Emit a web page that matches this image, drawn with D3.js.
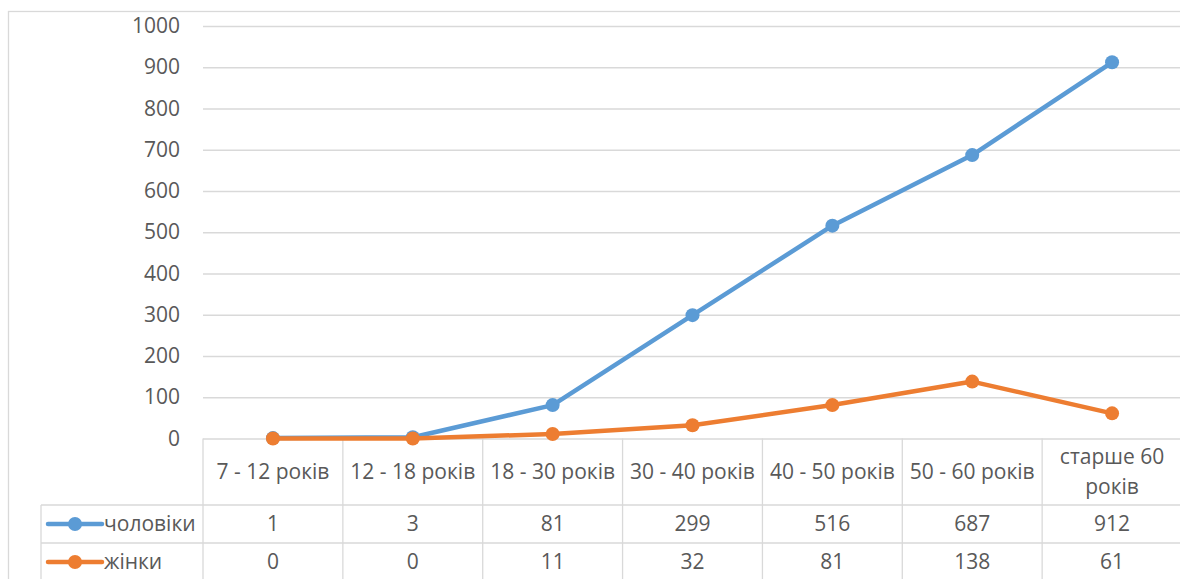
<!DOCTYPE html>
<html>
<head>
<meta charset="utf-8">
<script src="https://cdnjs.cloudflare.com/ajax/libs/d3/7.8.5/d3.min.js"></script>
<style>
    body { margin: 0; background: #fff; }
    svg { display: block; font-family: 'Open Sans', 'Liberation Sans', sans-serif; }
    .grid line { stroke: #d9d9d9; stroke-width: 1.3; }
    .table-line { stroke: #d9d9d9; stroke-width: 1.3; }
    text { fill: #595959; font-size: 21px; }
</style>
</head>
<body>
<div id="chart"></div>
<script>
    const categories = ['7 - 12 років', '12 - 18 років', '18 - 30 років', '30 - 40 років', '40 - 50 років', '50 - 60 років', 'старше 60 років'];
    const categoryLines = [['7 - 12 років'], ['12 - 18 років'], ['18 - 30 років'], ['30 - 40 років'], ['40 - 50 років'], ['50 - 60 років'], ['старше 60', 'років']];
    const seriesNames = ['чоловіки', 'жінки'];
    const men = [1, 3, 81, 299, 516, 687, 912];
    const women = [0, 0, 11, 32, 81, 138, 61];
    const yTicks = [0, 100, 200, 300, 400, 500, 600, 700, 800, 900, 1000];
    const colors = ['#5b9bd5', '#ed7d31'];

    const width = 1180;
    const height = 579;
    const plot = { left: 203, right: 1182, top: 26, bottom: 438.5 };
    const table = { left: 41, header: 505, rowHeight: 38 };

    const svg = d3.select('#chart')
        .append('svg')
        .attr('width', width)
        .attr('height', height);

    //outer border
    svg.append('rect')
        .attr('x', 8.5)
        .attr('y', 11.5)
        .attr('width', 1200)
        .attr('height', 700)
        .attr('fill', '#fff')
        .attr('stroke', '#d9d9d9')
        .attr('stroke-width', 1.3);

    //scales
    const x = d3.scaleBand()
        .domain(categories)
        .range([plot.left, plot.right])
        .padding(0);
    const y = d3.scaleLinear()
        .domain([0, 1000])
        .range([plot.bottom, plot.top]);
    const cx = d => x(d) + x.bandwidth() / 2;

    //grid lines
    svg.append('g')
        .classed('grid', true)
        .attr('transform', `translate(${plot.left},0)`)
        .call(d3.axisLeft(y).tickValues(yTicks).tickSize(-(plot.right - plot.left)).tickFormat(''))
        .call(g => g.select('.domain').remove());

    //y axis labels
    const yAxis = svg.append('g')
        .attr('transform', `translate(${plot.left},0)`)
        .call(d3.axisLeft(y).tickValues(yTicks).tickSize(0).tickPadding(23).tickFormat(d3.format('d')));
    yAxis.select('.domain').remove();
    yAxis.selectAll('text')
        .attr('fill', '#595959')
        .style('font-size', '21px')
        .style('font-family', "'Open Sans', 'Liberation Sans', sans-serif");

    //data table lines
    const tableBottom = table.header + table.rowHeight * seriesNames.length;
    const boundaries = categories.map(c => x(c)).concat([plot.right]);
    svg.selectAll('.col-line')
        .data(boundaries)
        .join('line')
        .classed('table-line', true)
        .attr('x1', d => d).attr('x2', d => d)
        .attr('y1', plot.bottom).attr('y2', tableBottom + 10);
    svg.append('line')
        .classed('table-line', true)
        .attr('x1', table.left).attr('x2', table.left)
        .attr('y1', table.header).attr('y2', tableBottom + 10);
    svg.selectAll('.row-line')
        .data(d3.range(seriesNames.length + 1))
        .join('line')
        .classed('table-line', true)
        .attr('x1', table.left).attr('x2', plot.right)
        .attr('y1', i => table.header + i * table.rowHeight)
        .attr('y2', i => table.header + i * table.rowHeight);

    //header labels
    const headerMid = (plot.bottom + table.header) / 2;
    categories.forEach((c, i) => {
        const lines = categoryLines[i];
        const t = svg.append('text')
            .attr('text-anchor', 'middle')
            .attr('x', cx(c))
            .attr('y', headerMid - (lines.length - 1) * 15);
        lines.forEach((l, j) => {
            t.append('tspan')
                .attr('x', cx(c))
                .attr('dy', j === 0 ? '0.35em' : '30px')
                .text(l);
        });
    });

    //rows
    const seriesData = [men, women];
    seriesNames.forEach((name, s) => {
        const rowMid = table.header + s * table.rowHeight + table.rowHeight / 2;
        //legend key
        svg.append('line')
            .attr('x1', 48).attr('x2', 102)
            .attr('y1', rowMid).attr('y2', rowMid)
            .attr('stroke', colors[s])
            .attr('stroke-width', 4.5)
            .attr('stroke-linecap', 'round');
        svg.append('circle')
            .attr('cx', 75).attr('cy', rowMid).attr('r', 7)
            .attr('fill', colors[s]);
        svg.append('text')
            .attr('x', 104)
            .attr('y', rowMid)
            .attr('dy', '0.35em')
            .text(name);
        svg.selectAll(null)
            .data(seriesData[s])
            .join('text')
            .attr('text-anchor', 'middle')
            .attr('x', (d, i) => cx(categories[i]))
            .attr('y', rowMid)
            .attr('dy', '0.35em')
            .text(d => d);
    });

    //lines
    const line = d3.line()
        .x((d, i) => cx(categories[i]))
        .y(d => y(d));
    seriesData.forEach((data, s) => {
        svg.append('path')
            .datum(data)
            .attr('d', line)
            .attr('fill', 'none')
            .attr('stroke', colors[s])
            .attr('stroke-width', 4.5)
            .attr('stroke-linejoin', 'round')
            .attr('stroke-linecap', 'round');
        svg.selectAll(null)
            .data(data)
            .join('circle')
            .attr('cx', (d, i) => cx(categories[i]))
            .attr('cy', d => y(d))
            .attr('r', 7)
            .attr('fill', colors[s]);
    });
</script>
</body>
</html>
